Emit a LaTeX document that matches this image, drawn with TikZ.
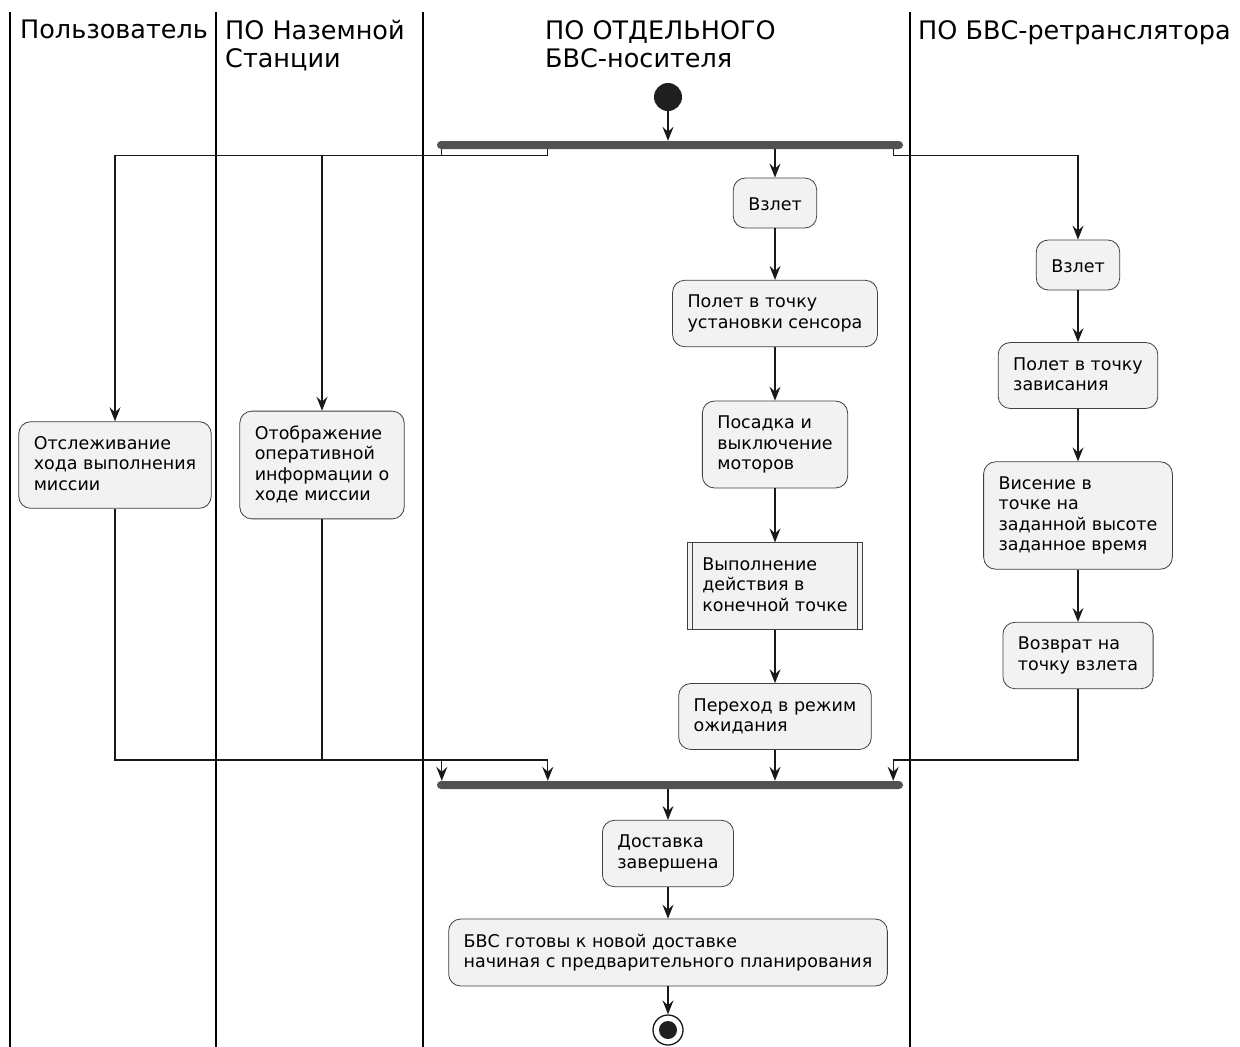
\documentclass[tikz,border=0pt]{standalone}
\usepackage{fontspec}
\setmainfont{DejaVu Sans}
\usetikzlibrary{arrows.meta}

\newcommand{\topstrut}{\rule{0pt}{17.35pt}}
\newcommand{\botstrut}{\rule[-3.15pt]{0pt}{3.15pt}}

\tikzset{
  act/.style={draw=black!75, fill=gray!10, rounded corners=12pt, align=left,
    inner xsep=15pt, inner ysep=14.75pt, line width=0.8pt,
    execute at begin node=\topstrut, execute at end node=\botstrut,
    font=\fontsize{17.5}{20.5}\selectfont},
  subact/.style={act, rounded corners=0pt},
  bar/.style={fill=black!68, rounded corners=4pt, minimum width=466pt,
    minimum height=8pt, inner sep=0pt},
  flow/.style={draw=black!90, line width=1.3pt,
    -{Stealth[length=14pt,width=11pt,inset=5pt]}},
  lane/.style={line width=1.5pt},
  head/.style={font=\fontsize{25.5}{28}\selectfont, align=left,
    anchor=north west, inner sep=0pt},
}

\begin{document}
\begin{tikzpicture}[x=1pt, y=-1pt]
  \useasboundingbox[fill=white] (0,0) rectangle (1240,1047);

  % swimlanes
  \foreach \lx in {10,216,423,910}
    \draw[lane] (\lx,12) -- (\lx,1047);
  \node[head] (hUser) at (20,20) {Пользователь};
  \node[head] (hGround) at (225,20) {ПО Наземной\\Станции};
  \node[head] (hCarrier) at (545,20) {ПО ОТДЕЛЬНОГО\\БВС-носителя};
  \node[head] (hRelay) at (918,20) {ПО БВС-ретранслятора};

  % start and fork
  \node[circle, fill=black!88, minimum size=28pt, inner sep=0pt] (start) at (668,97) {};
  \node[bar] (fork) at (670,145) {};

  % user and ground station
  \node[act] (track) at (115,465) {Отслеживание\\хода выполнения\\миссии};
  \node[act] (display) at (322,465) {Отображение\\оперативной\\информации о\\ходе миссии};

  % carrier
  \node[act] (takeoff) at (775,203) {Взлет};
  \node[act] (flysensor) at (775,313.5) {Полет в точку\\установки сенсора};
  \node[act] (landing) at (775,444.5) {Посадка и\\выключение\\моторов};
  \node[subact] (action) at (775,586) {Выполнение\\действия в\\конечной точке};
  \draw[black!75, line width=0.8pt] ([xshift=6pt]action.north west) -- ([xshift=6pt]action.south west);
  \draw[black!75, line width=0.8pt] ([xshift=-6pt]action.north east) -- ([xshift=-6pt]action.south east);
  \node[act] (standby) at (775,716.5) {Переход в режим\\ожидания};

  % relay
  \node[act] (rtakeoff) at (1078,265) {Взлет};
  \node[act] (rfly) at (1078,375.5) {Полет в точку\\зависания};
  \node[act] (rhover) at (1078,515.5) {Висение в\\точке на\\заданной высоте\\заданное время};
  \node[act] (rreturn) at (1078,655.5) {Возврат на\\точку взлета};

  % join and finish
  \node[bar] (join) at (670,785) {};
  \node[act] (done) at (668,853.5) {Доставка\\завершена};
  \node[act] (ready) at (668,952.5) {БВС готовы к новой доставке\\начиная с предварительного планирования};
  \node[circle, draw=black!90, line width=1.3pt, minimum size=30pt, inner sep=0pt] (stop) at (668,1030) {};
  \fill[black!88] (stop) circle (9pt);

  \coordinate (f1) at ([xshift=5pt]fork.south west);
  \coordinate (f2) at ([xshift=111pt]fork.south west);
  \coordinate (f4) at ([xshift=-10pt]fork.south east);
  \coordinate (j1) at ([xshift=5pt]join.north west);
  \coordinate (j2) at ([xshift=111pt]join.north west);
  \coordinate (j4) at ([xshift=-10pt]join.north east);

  % connectors
  \draw[flow] (start) -- (start |- fork.north);
  \draw[flow] (f1) -- ++(0,6) -| (track);
  \draw[flow] (f2) -- ++(0,6) -| (display);
  \draw[flow] (fork.south -| takeoff) -- (takeoff);
  \draw[flow] (f4) -- ++(0,6) -| (rtakeoff);
  \draw[flow] (takeoff) -- (flysensor);
  \draw[flow] (flysensor) -- (landing);
  \draw[flow] (landing) -- (action);
  \draw[flow] (action) -- (standby);
  \draw[flow] (rtakeoff) -- (rfly);
  \draw[flow] (rfly) -- (rhover);
  \draw[flow] (rhover) -- (rreturn);
  \draw[flow] (track) |- (j1 |- 0,760) -- (j1);
  \draw[flow] (display) |- (j2 |- 0,760) -- (j2);
  \draw[flow] (standby) -- (join.north -| standby);
  \draw[flow] (rreturn) |- (j4 |- 0,760) -- (j4);
  \draw[flow] (join.south -| done) -- (done);
  \draw[flow] (done) -- (ready);
  \draw[flow] (ready) -- (stop);
\end{tikzpicture}
\end{document}
